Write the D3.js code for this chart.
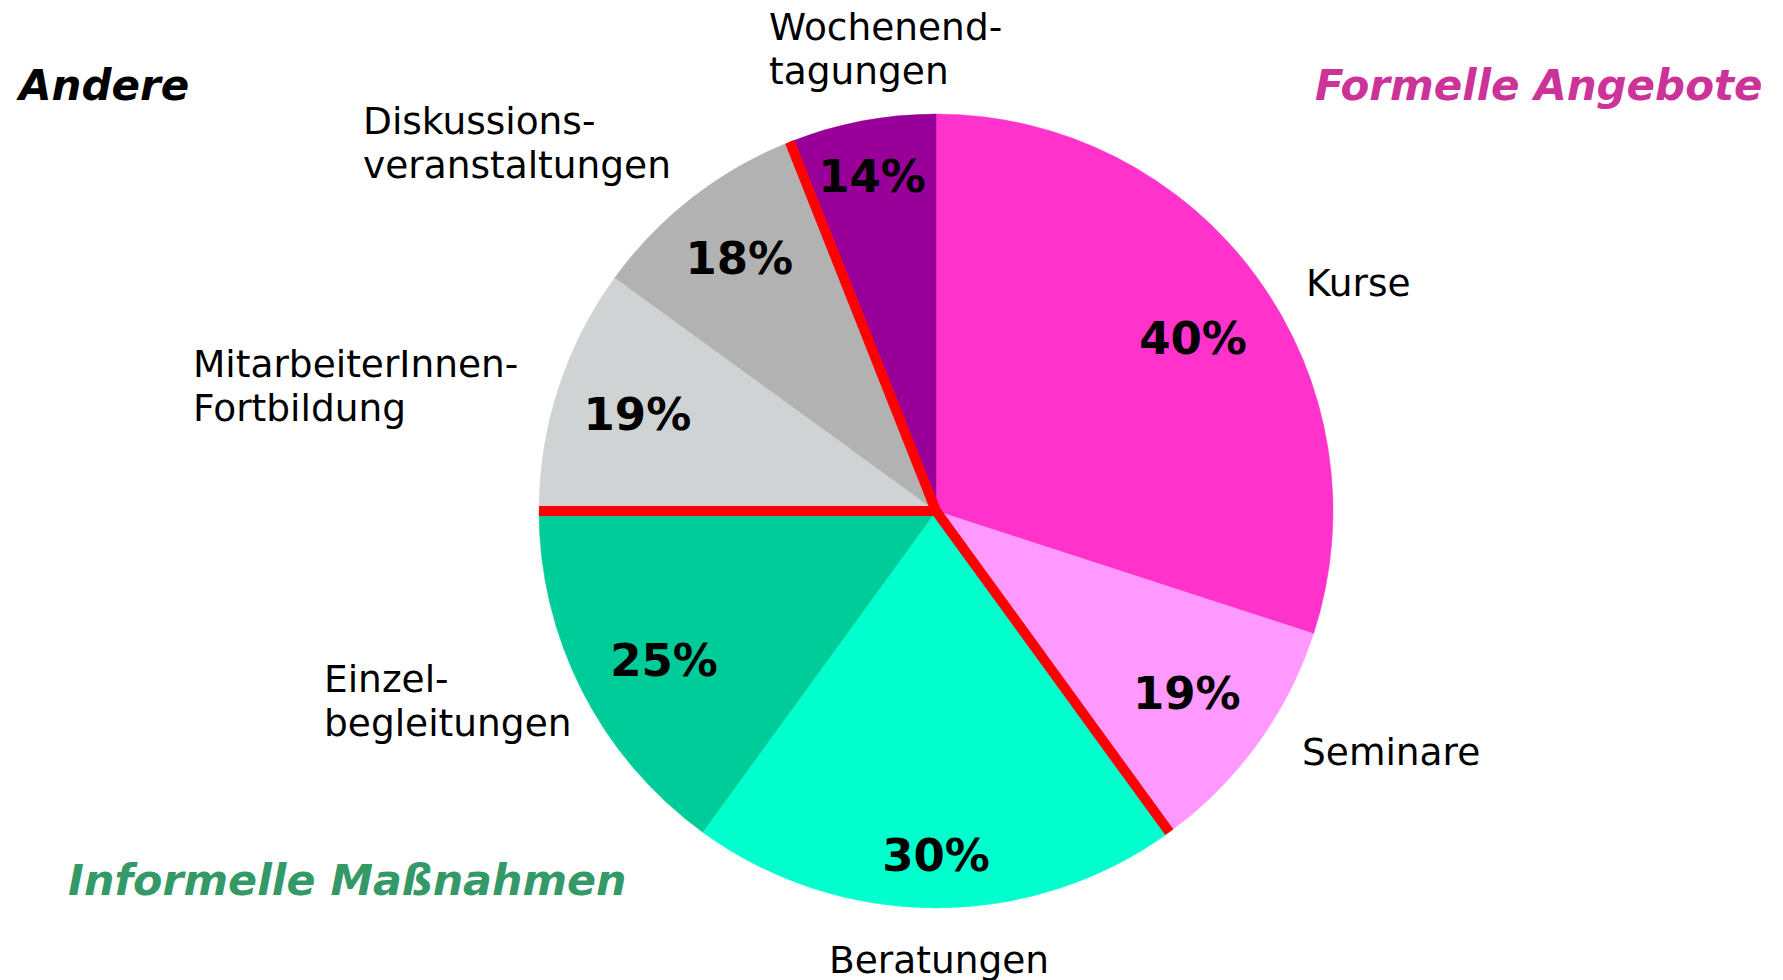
<!DOCTYPE html>
<html>
<head>
<meta charset="utf-8">
<script src="https://cdn.jsdelivr.net/npm/d3@7"></script>
<style>
  html, body { margin: 0; padding: 0; background: #ffffff; }
  svg { display: block; }
</style>
</head>
<body>
<svg id="chart" width="1783" height="980"></svg>
<script>
// ---------- DATA ----------
const categories = ["Kurse", "Seminare", "Beratungen", "Einzelbegleitungen",
  "MitarbeiterInnen-Fortbildung", "Diskussionsveranstaltungen", "Wochenendtagungen"];
// angular share of each slice
const shares = [30, 10, 20, 15, 10, 9, 6];
// percentage printed in each slice
const percentLabels = [40, 19, 30, 25, 19, 18, 14];
const groupOf = ["Formelle Angebote", "Formelle Angebote", "Informelle Maßnahmen",
  "Informelle Maßnahmen", "Andere", "Andere", "Formelle Angebote"];
const labelLines = [["Kurse"], ["Seminare"], ["Beratungen"], ["Einzel-", "begleitungen"],
  ["MitarbeiterInnen-", "Fortbildung"], ["Diskussions-", "veranstaltungen"], ["Wochenend-", "tagungen"]];
const groupTitles = ["Andere", "Formelle Angebote", "Informelle Maßnahmen"];

// ---------- STYLE / LAYOUT ----------
const sliceColors = ["#FF33CC", "#FF99FF", "#00FFCC", "#00CC99", "#CFD3D3", "#B2B2B2", "#990099"];
const titleColors = ["#000000", "#CC3399", "#339966"];
const titlePos = [[19, 100], [1315, 100], [68, 895]];
const titleSize = [42, 42, 42.8];
const pctRadius = [310, 310, 344, 310, 314, 321, 341];
const pctAngleShiftDeg = [2, 0, 0, -1.7, 0, 0, 0];
const labelPos = [[1306, 296], [1302, 765], [829, 973],
  [324, 692], [193, 377], [363, 134], [769, 40]];
const cx = 936, cy = 511, R = 397;
const FONT = "'DejaVu Sans', Verdana, sans-serif";

const svg = d3.select("#chart");
const data = categories.map((c, i) => ({ cat: c, share: shares[i], pct: percentLabels[i], group: groupOf[i], i }));

const pie = d3.pie().sort(null).value(d => d.share).startAngle(0).endAngle(2 * Math.PI);
const arcs = pie(data);
const arc = d3.arc().innerRadius(0).outerRadius(R);

const g = svg.append("g").attr("transform", `translate(${cx},${cy})`);

g.selectAll("path.slice").data(arcs).enter().append("path")
  .attr("class", "slice")
  .attr("d", arc)
  .attr("fill", d => sliceColors[d.data.i])
  .attr("stroke", d => sliceColors[d.data.i])
  .attr("stroke-width", 0.5);

// red separators between groups
const seps = arcs.filter((d, k) => d.data.group !== arcs[(k - 1 + arcs.length) % arcs.length].data.group);
g.selectAll("line.sep").data(seps).enter().append("line")
  .attr("class", "sep")
  .attr("x1", 0).attr("y1", 0)
  .attr("x2", d => R * Math.sin(d.startAngle))
  .attr("y2", d => -R * Math.cos(d.startAngle))
  .attr("stroke", "#FF0000")
  .attr("stroke-width", 10);

// percentage labels
g.selectAll("text.pct").data(arcs).enter().append("text")
  .attr("class", "pct")
  .attr("transform", d => {
    const r = pctRadius[d.data.i];
    const a = (d.startAngle + d.endAngle) / 2 + pctAngleShiftDeg[d.data.i] * Math.PI / 180;
    return `translate(${r * Math.sin(a)},${-r * Math.cos(a)})`;
  })
  .attr("dy", "0.36em")
  .attr("text-anchor", "middle")
  .attr("font-family", FONT)
  .attr("font-weight", "bold")
  .attr("font-size", 45)
  .attr("fill", "#000")
  .text(d => d.data.pct + "%");

// category labels
data.forEach(d => {
  const [x, y] = labelPos[d.i];
  const t = svg.append("text")
    .attr("x", x).attr("y", y)
    .attr("font-family", FONT)
    .attr("font-size", 37.5)
    .attr("fill", "#000");
  labelLines[d.i].forEach((line, k) => {
    t.append("tspan").attr("x", x).attr("y", y + k * 44).text(line);
  });
});

// group titles
groupTitles.forEach((tt, k) => {
  svg.append("text")
    .attr("x", titlePos[k][0]).attr("y", titlePos[k][1])
    .attr("font-family", FONT)
    .attr("font-weight", "bold")
    .attr("font-style", "italic")
    .attr("font-size", titleSize[k])
    .attr("fill", titleColors[k])
    .text(tt);
});
</script>
</body>
</html>
